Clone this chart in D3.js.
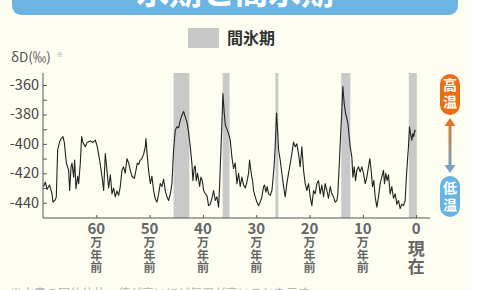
<!doctype html>
<html lang="ja">
<head>
<meta charset="utf-8">
<title>氷期と間氷期</title>
<script src="https://d3js.org/d3.v7.min.js"></script>
<style>
  body { margin: 0; background: #ffffff; }
  svg { display: block; }
  text { font-family: "Noto Sans CJK JP", "Noto Sans", sans-serif; }
</style>
</head>
<body>
<div id="chart"></div>
<script>
// ages in thousand years before present (kyr)
var ages = [699, 695.6, 692.5, 687.5, 683.1, 681.2, 676.9, 675, 672.5, 668.8, 666.2, 662.5, 660, 656.2, 651.9, 650, 647.5, 645.6, 642.5, 640.6, 638.1, 635, 633.1, 630, 627.5, 625, 620.6, 617.5, 611.2, 606.2, 601.9, 598.7, 593.7, 589.4, 586.2,
  583.1, 580, 576.9, 573.7, 570.6, 567.5, 564.4, 561.2, 558.1, 555, 551.9, 548.7, 545.6, 542.5, 539.4, 536.2, 533.1, 528.7, 525.6, 523.1, 520.6, 517.5, 514.4, 511.2, 508.1, 506.9, 505, 501.9, 498.7, 495.6, 492.5, 489.4, 486.2, 483.1, 480, 476.9, 473.7, 470.6, 467.5, 464.4, 461.2, 458.1,
  455, 451.9, 448.7, 445.6, 442.5, 439.4, 436.2, 433.1, 430, 426.9, 423.7, 420.6, 418.7, 416.2, 414.4, 412.5, 410, 406.2, 403.7, 401.2, 398.7, 395.6, 392.5, 389.4, 386.2, 383.1, 380, 376.9, 373.7, 370.6, 368.7, 366.2, 363.7, 362.5, 360, 358.1, 355, 351.9, 348.7, 345.6, 342.5, 339.4,
  336.2, 333.1, 330, 326.9, 323.7, 320.6, 317.5, 314.4, 312.5, 309.4, 306.9, 305, 301.9, 298.7, 295.6, 292.5, 289.4, 286.2, 284.4, 281.9, 279.4, 276.9, 273.7, 270.6, 268.7, 266.2, 264.4, 261.9, 260, 258.1, 255, 251.9, 248.7, 245.6, 242.5, 239.4, 236.2, 233.1, 230, 226.9, 223.7, 220.6, 217.5,
  214.4, 211.2, 208.1, 205, 201.9, 198.7, 195.6, 192.5, 189.4, 186.2, 183.1, 180, 176.9, 173.7, 170.6, 167.5, 164.4, 161.2, 158.1, 155, 151.9, 148.7, 146.9, 144.4, 142.5, 139.4, 137.5, 135, 132.5, 130, 128.1, 125.6, 123.7, 120.6, 118.7, 116.2, 113.7, 111.2, 108.1, 105, 101.9, 98.7, 95.6,
  92.5, 89.4, 86.9, 84.4, 81.9, 79.4, 76.9, 73.7, 70.6, 67.5, 64.4, 61.2, 59.4, 56.9, 54.4, 51.9, 48.7, 45.6, 42.5, 39.4, 36.2, 33.1, 30, 26.9, 23.7, 20.6, 18.7, 16.2, 14.4, 12.5, 10.6, 8.1, 6.2, 4.4, 2.5, 1.2];

// deuterium ratio δD (‰)
var dD = [-429, -426, -431, -428, -434, -439.6, -438, -436, -404, -398.7, -396.4, -395, -399, -413, -418, -431.7, -416, -413, -422.6, -411, -430.5, -422, -427, -413, -395, -399, -402, -399, -398, -399, -397.5, -401, -411, -422, -431.7,
  -406.6, -418, -430, -421, -434, -430, -436, -432, -435, -429, -418, -415.6, -420, -410, -413, -418, -422, -423.5, -418, -413, -414, -411, -410, -407, -402, -396.4, -405.6, -418, -427, -422, -431.7, -437.4, -439.6, -434, -427, -429, -424, -432, -436, -438.5, -434, -427,
  -404, -390.7, -388.4, -389, -384, -380.5, -378, -381.6, -385, -392, -402, -413.5, -425, -416, -415, -425, -420, -429, -422.6, -425, -431.7, -434, -435, -442, -441, -437, -431.7, -438.5, -436, -443, -429, -404, -379, -365.7, -379, -387, -390, -393, -397.5, -409, -416.8, -413,
  -427, -420, -429, -422.6, -428, -430, -426, -420, -411, -420, -425, -431.7, -436, -439.6, -442, -439.6, -436, -429, -428, -432.8, -429, -434, -435, -431.7, -425, -413.5, -402, -379, -390.7, -404, -411, -420, -429, -436, -427, -420, -413.5, -406.6, -398.7, -402, -400, -407, -415.6,
  -402, -418, -427, -431.7, -427, -436, -442, -431.7, -434, -427, -425, -434, -428, -436, -427, -431.7, -437, -429, -434, -436, -439.6, -438.5, -434, -415.6, -400, -377, -361, -372.5, -379, -382.7, -386, -395, -402, -409, -422.6, -415.6, -425, -418, -415.6, -419, -415.6, -420, -427,
  -422.6, -415.6, -410, -418, -429, -425, -436, -443, -436, -427, -422.6, -418, -427, -420, -425, -421, -434, -429, -437, -434, -441, -438.5, -444, -441, -442, -438.5, -425, -411, -402, -388.4, -393, -397.5, -393, -395, -390.7, -391.6];

// interglacial periods (kyr ago)
var bandStart = [455, 363, 264, 140.5, 13.7];
var bandEnd = [425.5, 350, 258.5, 123.5, -1.3];

var yTicks = [-360, -380, -400, -420, -440];
var yMinor = [-370, -390, -410, -430];
var xTicks = [600, 500, 400, 300, 200, 100, 0];
var xLabels = ["60", "50", "40", "30", "20", "10", "0"];

var width = 486, height = 290;

var svg = d3.select("#chart").append("svg")
  .attr("width", width)
  .attr("height", height);

// page background
svg.append("rect").attr("x", 0).attr("y", 0).attr("width", 471).attr("height", height).attr("fill", "#fdfdf1");

// title banner (cut at top)
svg.append("rect").attr("x", 12).attr("y", -30).attr("width", 446).attr("height", 45)
  .attr("rx", 9).attr("fill", "#6cb5e2");
svg.append("text").attr("x", 235).attr("y", 4).attr("text-anchor", "middle")
  .attr("font-size", 33).attr("font-weight", "bold").attr("fill", "#ffffff")
  .text("氷期と間氷期");

// legend
svg.append("rect").attr("x", 188).attr("y", 28).attr("width", 31).attr("height", 20).attr("fill", "#c8c8c8");
svg.append("text").attr("x", 227).attr("y", 44).attr("font-size", 16).attr("font-weight", "bold")
  .attr("fill", "#333").text("間氷期");

var x = d3.scaleLinear().domain([700, -26]).range([43, 430]);
var y = d3.scaleLinear().domain([-450.4, -351.8]).range([218, 73]);

// gray bands
svg.selectAll(".band")
  .data(bandStart)
  .enter().append("rect")
  .attr("class", "band")
  .attr("x", function (d) { return x(d); })
  .attr("width", function (d, i) { return x(bandEnd[i]) - x(d); })
  .attr("y", y.range()[1])
  .attr("height", y.range()[0] - y.range()[1])
  .attr("fill", "#c9c9c9");

// data line
var points = ages.map(function (a, i) { return [a, dD[i]]; });
svg.append("path")
  .datum(points)
  .attr("fill", "none")
  .attr("stroke", "#222")
  .attr("stroke-width", 1.1)
  .attr("stroke-linejoin", "round")
  .attr("d", d3.line().x(function (d) { return x(d[0]); }).y(function (d) { return y(d[1]); }));

// y axis
var yAxis = svg.append("g").attr("transform", "translate(43,0)")
  .call(d3.axisRight(y).tickValues(yTicks.concat(yMinor)).tickSize(4).tickFormat(""));
yAxis.select(".domain").attr("stroke", "#555").attr("d", "M0," + y.range()[1] + "V" + y.range()[0]);
yAxis.selectAll(".tick line").attr("stroke", "#555");

svg.selectAll(".ylab")
  .data(yTicks)
  .enter().append("text")
  .attr("class", "ylab")
  .attr("x", 39)
  .attr("y", function (d) { return y(d) + 5; })
  .attr("text-anchor", "end")
  .attr("font-size", 14.5)
  .attr("fill", "#444")
  .text(function (d) { return d; });

svg.append("text").attr("x", 11).attr("y", 62).attr("font-size", 13.5).attr("fill", "#555")
  .text("δD(‰)");
svg.append("text").attr("x", 56).attr("y", 57).attr("font-size", 7).attr("fill", "#aaa").text("※");

// x axis
var xAxis = svg.append("g").attr("transform", "translate(0,218)")
  .call(d3.axisTop(x).tickValues(xTicks).tickSize(3).tickFormat(""));
xAxis.select(".domain").attr("stroke", "#555").attr("d", "M" + x.range()[0] + ",0H" + x.range()[1]);
xAxis.selectAll(".tick line").attr("stroke", "#555");

var xl = svg.selectAll(".xlab")
  .data(xTicks)
  .enter().append("g")
  .attr("class", "xlab")
  .attr("transform", function (d) { return "translate(" + x(d) + ",0)"; });

xl.append("text")
  .attr("y", 234)
  .attr("text-anchor", "middle")
  .attr("font-size", 15)
  .attr("font-weight", "bold")
  .attr("fill", "#666")
  .text(function (d, i) { return xLabels[i]; });

xl.filter(function (d) { return d > 0; })
  .selectAll(".unit")
  .data(["万", "年", "前"])
  .enter().append("text")
  .attr("y", function (d, i) { return 247 + i * 12.5; })
  .attr("text-anchor", "middle")
  .attr("font-size", 12)
  .attr("font-weight", "bold")
  .attr("fill", "#666")
  .text(function (d) { return d; });

xl.filter(function (d) { return d === 0; })
  .selectAll(".now")
  .data(["現", "在"])
  .enter().append("text")
  .attr("y", function (d, i) { return 255 + i * 17.5; })
  .attr("text-anchor", "middle")
  .attr("font-size", 17)
  .attr("font-weight", "bold")
  .attr("fill", "#666")
  .text(function (d) { return d; });

// temperature indicator
var grad = svg.append("defs").append("linearGradient")
  .attr("id", "arrowGrad").attr("x1", 0).attr("y1", 0).attr("x2", 0).attr("y2", 1);
grad.append("stop").attr("offset", "0%").attr("stop-color", "#e8731c");
grad.append("stop").attr("offset", "100%").attr("stop-color", "#6aa9d6");

svg.append("rect").attr("x", 440).attr("y", 74).attr("width", 20).attr("height", 41)
  .attr("rx", 10).attr("fill", "#ea6f14");
svg.append("rect").attr("x", 440).attr("y", 176).attr("width", 20).attr("height", 41)
  .attr("rx", 10).attr("fill", "#67b3e2");

svg.append("path")
  .attr("d", "M450,118 L455.5,126 L451.5,126 L451.5,165 L455.5,165 L450,173 L444.5,165 L448.5,165 L448.5,126 L444.5,126 Z")
  .attr("fill", "url(#arrowGrad)");

[["高", 90, "#fff"], ["温", 107, "#fff"], ["低", 193, "#fff"], ["温", 210, "#fff"]].forEach(function (t) {
  svg.append("text").attr("x", 450).attr("y", t[1]).attr("text-anchor", "middle")
    .attr("font-size", 14).attr("font-weight", "bold").attr("fill", t[2]).text(t[0]);
});

// footnote (cut at bottom, as in the source)
svg.append("text").attr("x", 10).attr("y", 298).attr("font-size", 12).attr("fill", "#b5b5b5")
  .text("※水素の同位体比。値が高いほど気温が高いことを示す");
</script>
</body>
</html>
